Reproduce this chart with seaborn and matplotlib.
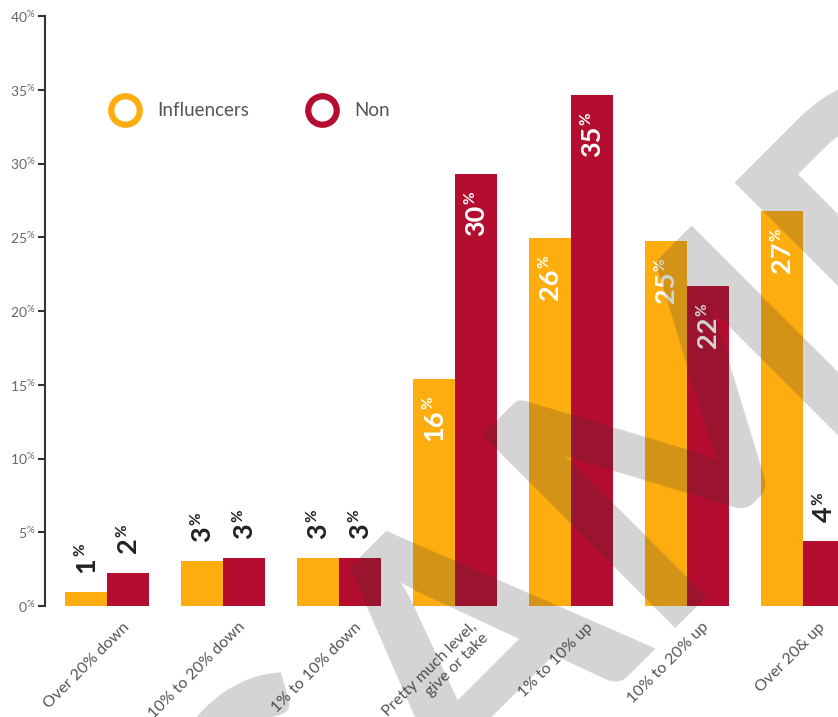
import matplotlib
matplotlib.use("Agg")
import matplotlib.pyplot as plt
import matplotlib.transforms as mtransforms
from matplotlib.lines import Line2D
import seaborn as sns
import pandas as pd

# ---- data ----
categories = ["Over 20% down", "10% to 20% down", "1% to 10% down",
              "Pretty much level,\ngive or take", "1% to 10% up",
              "10% to 20% up", "Over 20& up"]
influencers = [0.95, 3.05, 3.25, 15.4, 24.95, 24.75, 26.8]
non = [2.25, 3.25, 3.25, 29.3, 34.65, 21.7, 4.4]
influencer_labels = [1, 3, 3, 16, 26, 25, 27]
non_labels = [2, 3, 3, 30, 35, 22, 4]
series_names = ["Influencers", "Non"]
yticks = [0, 5, 10, 15, 20, 25, 30, 35, 40]

ORANGE = "#FDAD0F"
RED = "#B50D30"

sns.set_theme(style="white")
plt.rcParams["font.family"] = ["Lato", "DejaVu Sans"]
plt.rcParams["mathtext.fontset"] = "custom"
plt.rcParams["mathtext.rm"] = "Lato"
plt.rcParams["mathtext.bf"] = "Lato:bold"
plt.rcParams["mathtext.it"] = "Lato:italic"

fig = plt.figure(figsize=(8.38, 7.17), dpi=100)
ax = fig.add_axes([45 / 838, 111 / 717, 793 / 838, 590 / 717])

df = pd.DataFrame({
    "category": categories * 2,
    "value": influencers + non,
    "group": [series_names[0]] * len(categories) + [series_names[1]] * len(categories),
})
sns.barplot(data=df, x="category", y="value", hue="group", palette=[ORANGE, RED],
            width=0.725, saturation=1, errorbar=None, legend=False, ax=ax,
            linewidth=0, edgecolor="none")

ax.set_xlim(-0.534, 6.302)
ax.set_ylim(0, 40)
ax.set_xlabel("")
ax.set_ylabel("")
sns.despine(ax=ax, bottom=True)
ax.spines["left"].set_color("#333333")
ax.spines["left"].set_linewidth(1.5)

ax.set_yticks(yticks)
ax.set_yticklabels([f"{v}$^{{\\%}}$" for v in yticks], fontsize=10, color="#666666")
ax.tick_params(axis="y", left=True, length=5, width=1.5, color="#333333", pad=2)
ax.tick_params(axis="x", bottom=False, pad=4)

ax.set_xticks(range(len(categories)))
ax.set_xticklabels(categories, rotation=45, ha="right", rotation_mode="anchor",
                   fontsize=11.5, color="#555555")
offset = mtransforms.ScaledTranslation(15 / 100, 0, fig.dpi_scale_trans)
for lab in ax.get_xticklabels():
    lab.set_transform(lab.get_transform() + offset)
    lab.set_multialignment("right")

# ---- bar value labels (number + small raised "%") ----
value_texts = []
for container, labels in zip(ax.containers, [influencer_labels, non_labels]):
    for bar, lab in zip(container, labels):
        h = bar.get_height()
        x = bar.get_x() + bar.get_width() / 2
        if h > 10:
            t = ax.annotate(str(lab), (x, h), xytext=(0, -22), textcoords="offset points",
                            rotation=90, ha="center", va="top", color="white",
                            fontsize=19.5, fontweight="bold")
            value_texts.append((t, "white"))
        else:
            t = ax.annotate(str(lab), (x, h), xytext=(0, 14), textcoords="offset points",
                            rotation=90, ha="center", va="bottom", color="#222222",
                            fontsize=19.5, fontweight="bold")
            value_texts.append((t, "#222222"))

fig.canvas.draw()
renderer = fig.canvas.get_renderer()
W, H = fig.bbox.width, fig.bbox.height
for t, color in value_texts:
    bb = t.get_window_extent(renderer)
    fig.text((bb.x0 - 1) / W, (bb.y1 + 0.5) / H, "%", rotation=90, ha="left", va="bottom",
             fontsize=11, fontweight="bold", color=color, zorder=5)

# ---- legend ----
handles = [
    Line2D([], [], ls="none", marker="o", ms=20.5, mfc="white", mec=ORANGE, mew=4.5,
           label=series_names[0]),
    Line2D([], [], ls="none", marker="o", ms=20.5, mfc="white", mec=RED, mew=4.5,
           label=series_names[1]),
]
fig.legend(handles=handles, loc="center left", bbox_to_anchor=(101 / 838, 1 - 111 / 717),
           frameon=False, ncol=2, fontsize=13.5, handlelength=1.6, handletextpad=0.9,
           columnspacing=3.1, borderpad=0, labelcolor="#555555")

# ---- watermark ----
fig.text(320 / 838, 1 - 975 / 717, "SAMPLE", rotation=45, rotation_mode="anchor",
         ha="left", va="baseline", fontsize=272, fontweight="bold",
         color="#333333", alpha=0.21, zorder=20, family="Lato")

fig.savefig("out.png", dpi=100)
